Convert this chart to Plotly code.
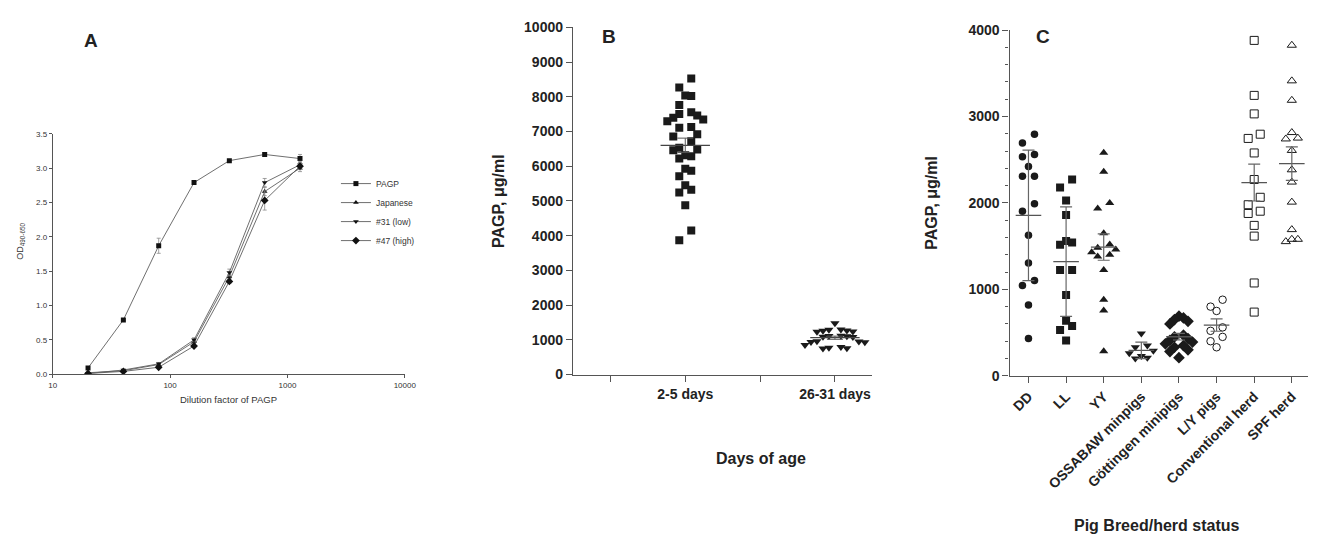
import numpy as np
import plotly.graph_objects as go

W, H = 1320, 541
FONT = "Liberation Sans, Arial, Helvetica, sans-serif"
INK = "#222222"
AXIS = "#555555"

# ---------------- Panel A: titration of PAGP standards ----------------
dilution = [20, 40, 80, 160, 320, 640, 1280]
od_pagp = [0.09, 0.79, 1.87, 2.79, 3.11, 3.20, 3.14]
od_pagp_err = [0.01, 0.01, 0.11, 0.01, 0.01, 0.02, 0.06]
od_japanese = [0.02, 0.05, 0.14, 0.47, 1.42, 2.66, 3.00]
od_japanese_err = [0.0, 0.01, 0.01, 0.02, 0.03, 0.06, 0.05]
od_low = [0.01, 0.06, 0.15, 0.50, 1.48, 2.79, 3.05]
od_low_err = [0.0, 0.01, 0.02, 0.03, 0.05, 0.06, 0.05]
od_high = [0.01, 0.04, 0.10, 0.41, 1.35, 2.53, 3.03]
od_high_err = [0.0, 0.01, 0.01, 0.02, 0.03, 0.14, 0.05]
series_names = ["PAGP", "Japanese", "#31 (low)", "#47 (high)"]
series_symbols = ["square", "triangle-up", "triangle-down", "diamond"]

# ---------------- Panel B: PAGP by age ----------------
b_groups = ["2-5 days", "26-31 days"]
days_2_5 = [8527, 8267, 8035, 8024, 7764, 7559, 7503, 7465, 7400, 7344, 7297,
            7129, 7111, 6925, 6860, 6720, 6533, 6486, 6458, 6318, 6290, 6226,
            5927, 5871, 5714, 5451, 5323, 5247, 4876, 4146, 3870]
days_26_31 = [1480, 1300, 1290, 1270, 1260, 1240, 1230, 1120, 1110, 1100, 1090,
              1080, 960, 950, 940, 930, 850, 790, 770, 760, 750]

# ---------------- Panel C: PAGP by breed / herd ----------------
c_categories = ["DD", "LL", "YY", "OSSABAW minpigs", "Göttingen minipigs",
                "L/Y pigs", "Conventional herd", "SPF herd"]
pagp_dd = [2795, 2694, 2559, 2533, 2421, 2309, 2309, 1990, 1904, 1627, 1305,
           1103, 1044, 819, 430]
pagp_ll = [2271, 2177, 2028, 1859, 1560, 1541, 1515, 1223, 1223, 935, 636,
           576, 531, 407]
pagp_yy = [2580, 2360, 1998, 1934, 1650, 1520, 1480, 1460, 1430, 1400, 1380,
           1223, 880, 755, 285]
pagp_ossabaw = [490, 350, 330, 290, 260, 230, 210, 200]
pagp_gottingen = [690, 670, 650, 630, 600, 470, 450, 430, 410, 390, 370, 350,
                  330, 300, 280, 210]
pagp_ly = [880, 800, 750, 560, 520, 450, 400, 330]
pagp_conventional = [3880, 3244, 3030, 2795, 2746, 2578, 2271, 2065, 1979,
                     1904, 1878, 1740, 1616, 1074, 737]
pagp_spf = [3824, 3412, 3187, 2814, 2750, 2740, 2607, 2383, 2241, 2009, 1691,
            1579, 1579, 1552]
c_error_kind = ["sd", "sd", "sem", "sd", "sem", "sem", "sem", "sem"]
c_symbols = ["circle", "square", "triangle-up", "triangle-down", "diamond",
             "circle-open", "square-open", "triangle-up-open"]


def px_x(a, b):
    return [a / W, b / W]


def px_y(top, bottom):
    return [1 - bottom / H, 1 - top / H]


def swarm_offsets(values, row_height, step):
    """Group points into horizontal bands and spread each band over fixed slots."""
    vals = np.asarray(values, float)
    order = np.argsort(-vals, kind="stable")
    rows, row = [], [order[0]]
    for idx in order[1:]:
        if vals[row[0]] - vals[idx] < row_height:
            row.append(idx)
        else:
            rows.append(row)
            row = [idx]
    rows.append(row)
    offs = np.zeros(len(vals))
    for r in rows:
        n = len(r)
        if n % 2:
            slots = list(range(-(n // 2), n // 2 + 1))
        else:
            slots = [s for s in range(-(n // 2), n // 2 + 1) if s != 0]
        slots.sort(key=lambda s: (abs(s), -s))
        members = sorted(r, key=lambda i: -vals[i])
        for s, idx in zip(slots, members):
            offs[idx] = s * step
    return offs


def mean_err(values, kind):
    v = np.asarray(values, float)
    sd = v.std(ddof=1)
    return v.mean(), (sd if kind == "sd" else sd / np.sqrt(len(v)))


fig = go.Figure()

# ---- Panel A traces ----
a_series = [(od_pagp, od_pagp_err), (od_japanese, od_japanese_err),
            (od_low, od_low_err), (od_high, od_high_err)]
for (yv, ev), name, sym in zip(a_series, series_names, series_symbols):
    fig.add_trace(go.Scatter(
        x=dilution, y=yv, name=name, mode="lines+markers",
        line=dict(color="#5f5f5f", width=0.9),
        marker=dict(symbol=sym, size=5 if sym != "diamond" else 6, color="#111111"),
        error_y=dict(type="data", array=ev, color="#8a8a8a", thickness=0.8, width=2),
        xaxis="x", yaxis="y", showlegend=True))

# ---- Panel B traces (groups sit on every other category slot) ----
b_data = [(days_2_5, "square"), (days_26_31, "triangle-down")]
b_pos = [2 * i + 1 for i in range(len(b_groups))]
for pos, (vals, sym) in zip(b_pos, b_data):
    offs = swarm_offsets(vals, 300, 0.08)
    fig.add_trace(go.Scatter(
        x=pos + offs, y=vals, mode="markers", showlegend=False,
        marker=dict(symbol=sym, size=8, color="#1a1a1a", line=dict(width=0)),
        xaxis="x2", yaxis="y2"))
    m, e = mean_err(vals, "sem")
    fig.add_trace(go.Scatter(
        x=[pos - 0.33, pos + 0.33], y=[m, m], mode="lines", showlegend=False,
        line=dict(color="#444444", width=1.3), xaxis="x2", yaxis="y2"))
    fig.add_trace(go.Scatter(
        x=[pos], y=[m], mode="markers", showlegend=False,
        marker=dict(size=1, opacity=0),
        error_y=dict(type="data", array=[e], color="#555555", thickness=1, width=8),
        xaxis="x2", yaxis="y2"))

# ---- Panel C traces ----
c_values = [pagp_dd, pagp_ll, pagp_yy, pagp_ossabaw, pagp_gottingen, pagp_ly,
            pagp_conventional, pagp_spf]
for pos, (vals, sym, kind) in enumerate(zip(c_values, c_symbols, c_error_kind)):
    step = 0.12 if sym == "diamond" else 0.16
    offs = swarm_offsets(vals, 110, step)
    is_open = sym.endswith("open")
    size = 9 if sym == "diamond" else (8 if sym.startswith(("square", "triangle")) else 7.5)
    fig.add_trace(go.Scatter(
        x=pos + offs, y=vals, mode="markers", showlegend=False,
        marker=dict(symbol=sym, size=size, color="#1a1a1a",
                    line=dict(width=1 if is_open else 0, color="#333333")),
        xaxis="x3", yaxis="y3"))
    m, e = mean_err(vals, kind)
    fig.add_trace(go.Scatter(
        x=[pos - 0.34, pos + 0.34], y=[m, m], mode="lines", showlegend=False,
        line=dict(color="#555555", width=1.3), xaxis="x3", yaxis="y3"))
    fig.add_trace(go.Scatter(
        x=[pos], y=[m], mode="markers", showlegend=False,
        marker=dict(size=1, opacity=0),
        error_y=dict(type="data", array=[e], color="#666666", thickness=1.2, width=6),
        xaxis="x3", yaxis="y3"))

small_axis = dict(showline=True, linecolor="#555555", linewidth=1, ticks="outside",
                  ticklen=3, tickcolor="#555555", showgrid=False, zeroline=False,
                  tickfont=dict(size=8, color="#333333", family=FONT))
big_axis = dict(showline=True, linecolor=AXIS, linewidth=1.4, ticks="outside",
                ticklen=6, tickwidth=1.2, tickcolor=AXIS, showgrid=False, zeroline=False,
                tickfont=dict(size=14, color=INK, family=FONT, weight="bold"))

fig.update_layout(
    width=W, height=H, margin=dict(l=0, r=0, t=0, b=0),
    paper_bgcolor="white", plot_bgcolor="white",
    font=dict(family=FONT, color=INK),
    xaxis=dict(domain=px_x(49.3, 405.7), anchor="y", type="log", range=[1, 4],
               tickvals=[10, 100, 1000, 10000], ticktext=["10", "100", "1000", "10000"],
               **small_axis),
    yaxis=dict(domain=px_y(129.7, 377.3), anchor="x", range=[0, 3.5], dtick=0.5,
               tickformat=".1f", **small_axis),
    xaxis2=dict(domain=px_x(576, 879), anchor="y2", range=[-0.5, 2 * len(b_groups) - 0.5],
                tickvals=b_pos, ticktext=b_groups,
                minor=dict(tick0=0, dtick=1, ticks="outside", ticklen=6, tickwidth=1.2,
                           tickcolor=AXIS),
                **big_axis),
    yaxis2=dict(domain=px_y(20, 377.7), anchor="x2", range=[0, 10000], dtick=1000,
                tickformat="d", **big_axis),
    xaxis3=dict(domain=px_x(1018, 1320), anchor="y3", range=[-0.5, 7.43],
                tickvals=list(range(len(c_categories))), ticktext=c_categories,
                tickangle=-45, **big_axis),
    yaxis3=dict(domain=px_y(22.7, 379), anchor="x3", range=[0, 4000], dtick=1000,
                tickformat="d",
                minor=dict(dtick=200, ticks="outside", ticklen=3, tickcolor=AXIS),
                **big_axis),
    legend=dict(x=336 / W, y=1 - 166 / H, xanchor="left", yanchor="top",
                font=dict(size=8.5, color="#333333", family=FONT),
                bgcolor="rgba(0,0,0,0)", itemwidth=30, tracegroupgap=0),
)

annotations = [
    dict(text="A", x=88, y=33, font=dict(size=19, weight="bold")),
    dict(text="B", x=612, y=29, font=dict(size=19, weight="bold")),
    dict(text="C", x=1052, y=29, font=dict(size=19, weight="bold")),
    dict(text="Dilution factor of PAGP", x=227, y=403,
         font=dict(size=9.5, color="#333333")),
    dict(text="OD<sub>490-650</sub>", x=17, y=240, textangle=-90,
         font=dict(size=9, color="#333333")),
    dict(text="PAGP, μg/ml", x=500, y=199, textangle=-90,
         font=dict(size=16, weight="bold")),
    dict(text="Days of age", x=766, y=464, font=dict(size=16, weight="bold")),
    dict(text="PAGP, μg/ml", x=938, y=201, textangle=-90,
         font=dict(size=16, weight="bold")),
    dict(text="Pig Breed/herd status", x=1167, y=533,
         font=dict(size=16, weight="bold")),
]
for a in annotations:
    fig.add_annotation(
        text=a["text"], x=a["x"] / W, y=1 - a["y"] / H, xref="paper", yref="paper",
        xanchor="center", yanchor="middle", showarrow=False,
        textangle=a.get("textangle", 0),
        font=dict(family=FONT, color=a["font"].get("color", INK),
                  size=a["font"]["size"], weight=a["font"].get("weight", "normal")))

fig.write_html("out.html")
